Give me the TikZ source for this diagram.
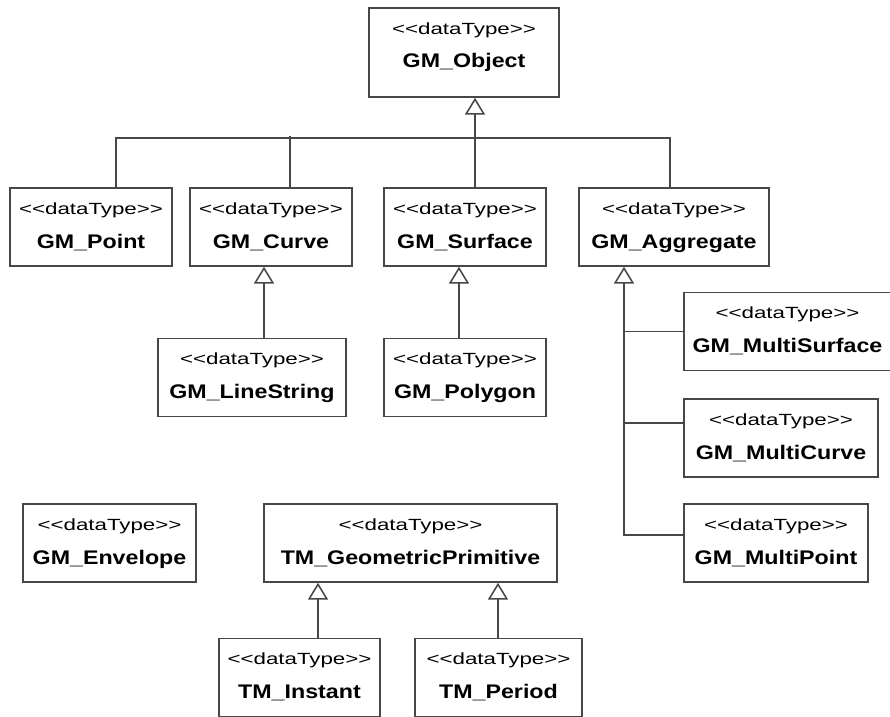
\documentclass[tikz,border=0pt]{standalone}
\usepackage{fontspec}
\usepackage{tikz}
\usetikzlibrary{arrows.meta,positioning,calc}
\newfontfamily\stereofont[FakeStretch=1.38]{Liberation Sans}
\newfontfamily\namefont[FakeStretch=1.18]{Liberation Sans}
% stereotype line and bold class name
\newcommand{\dtype}[2][3pt]{\rule{0pt}{9pt}{\stereofont <\kern0pt<dataType>\kern0pt>}\\{\namefont\bfseries\fontsize{14pt}{24pt}\selectfont #2}\rule[-#1]{0pt}{#1}}

\begin{document}
\begin{tikzpicture}[
    x=0.025cm, y=-0.025cm,
    box/.style={rectangle, draw=black!72, line width=1.1pt, minimum height=1.95cm, inner sep=0pt, align=center, font=\fontsize{11.5pt}{24pt}\selectfont},
    gen/.style={-{Triangle[open, fill=white, length=0.42cm, width=0.5cm]}, draw=black!72, line width=1.1pt},
    line/.style={draw=black!72, line width=1.1pt}
]
\useasboundingbox (0,0) rectangle (890,717);

\node[box, minimum width=4.75cm, minimum height=2.225cm] (obj) at (464,52.5) {\dtype[11pt]{GM\_Object}};

\node[box, minimum width=4.05cm] (point) at (91,227) {\dtype{GM\_Point}};
\node[box, minimum width=4.05cm] (curve) at (271,227) {\dtype{GM\_Curve}};
\node[box, minimum width=4.05cm] (surface) at (465,227) {\dtype{GM\_Surface}};
\node[box, minimum width=4.75cm] (aggr) at (674,227) {\dtype{GM\_Aggregate}};

\node[box, minimum width=4.7cm] (linestr) at (252,377.5) {\dtype{GM\_LineString}};
\node[box, minimum width=4.05cm] (polygon) at (465,377.5) {\dtype{GM\_Polygon}};

\node[box, minimum width=5.175cm] (msurf) at (787.5,331.5) {\dtype{GM\_MultiSurface}};
\node[box, minimum width=4.85cm] (mcurve) at (781,438) {\dtype{GM\_MultiCurve}};
\node[box, minimum width=4.6cm] (mpoint) at (776,543) {\dtype{GM\_MultiPoint}};

\node[box, minimum width=4.325cm] (envelope) at (109.5,543) {\dtype{GM\_Envelope}};
\node[box, minimum width=7.325cm] (prim) at (410.5,543) {\dtype{TM\_GeometricPrimitive}};
\node[box, minimum width=4.025cm] (instant) at (299.5,677.5) {\dtype{TM\_Instant}};
\node[box, minimum width=4.175cm] (period) at (498.5,677.5) {\dtype{TM\_Period}};

% arrow tips on the parents
\coordinate (objfoot) at ($(obj.south)+(11,0)$);
\coordinate (hub) at ($(objfoot)+(0,40)$);
\coordinate (curvefoot) at ($(curve.south)+(-7,0)$);
\coordinate (surffoot) at ($(surface.south)+(-6,0)$);
\coordinate (aggrfoot) at ($(aggr.south)+(-50,0)$);
\coordinate (primfootA) at ($(prim.south)+(-92.5,0)$);
\coordinate (primfootB) at ($(prim.south)+(87.5,0)$);

\draw[gen] (surface.north -| objfoot) -- (objfoot);
\draw[line] ($(point.north)+(25,0)$) |- (hub) -| ($(aggr.north)+(-4,0)$);
\draw[line] ($(curve.north)+(19,0)$) -- ($(curve.north)+(19,-51)$);

\draw[gen] (linestr.north -| curvefoot) -- (curvefoot);
\draw[gen] (polygon.north -| surffoot) -- (surffoot);

\draw[gen] ($(mpoint.west)+(0,-8)$) -| (aggrfoot);
\draw[line] (msurf.west) -- (msurf.west -| aggrfoot);
\draw[line] ($(mcurve.west)+(0,-15)$) -- ++(-60,0);

\draw[gen] (instant.north -| primfootA) -- (primfootA);
\draw[gen] (period.north -| primfootB) -- (primfootB);
\end{tikzpicture}
\end{document}
